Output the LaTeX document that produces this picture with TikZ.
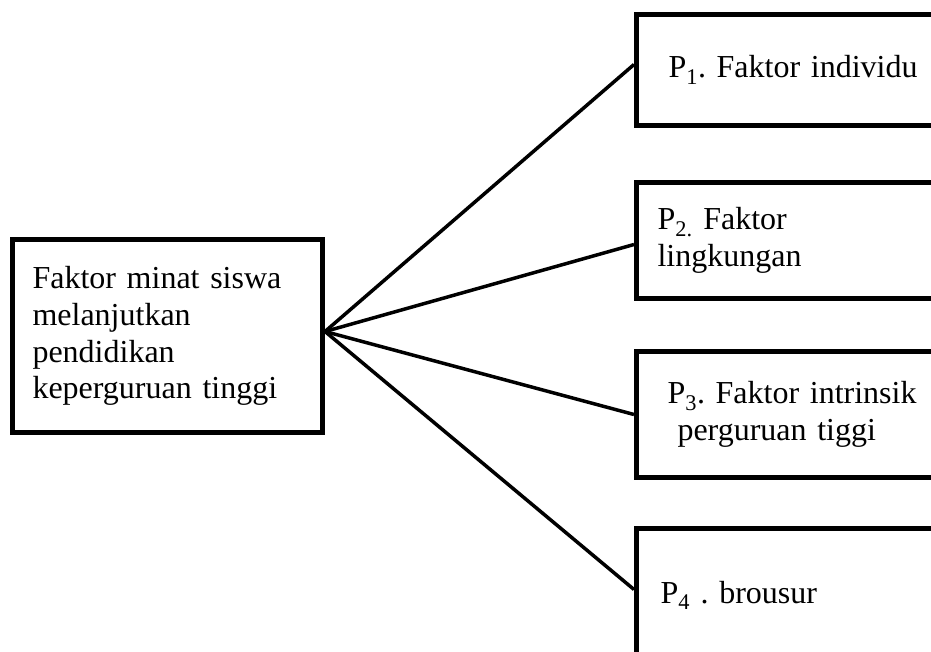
\documentclass[tikz,border=0pt]{standalone}
\usepackage{fontspec}
\setmainfont{Liberation Serif}
\frenchspacing
\begin{document}
\begin{tikzpicture}[x=1pt,y=-1pt,
  box/.style={draw, line width=5pt, rectangle, align=left, inner ysep=0pt,
              font=\fontsize{32}{36.8}\selectfont\frenchspacing},
  rbox/.style={box, anchor=north west, minimum width=326pt},
  conn/.style={line width=3.5pt}]
\useasboundingbox (0,0) rectangle (931,651);
\clip (0,0) rectangle (931,651);
\node[box, anchor=north west, minimum width=310pt, minimum height=193pt,
      inner xsep=20pt, text width=270pt] (L) at (10,237)
  {Faktor minat siswa\\melanjutkan\\pendidikan\\keperguruan tinggi};
\node[rbox, minimum height=111pt, inner xsep=32pt, text width=262pt] (p1) at (634,12)
  {P\textsubscript{1}. Faktor individu};
\node[rbox, minimum height=116pt, inner xsep=21pt, text width=284pt] (p2) at (634,180)
  {P\textsubscript{2.} Faktor\\lingkungan};
\node[rbox, minimum height=126pt, inner xsep=31pt, text width=264pt] (p3) at (634,349)
  {P\textsubscript{3}. Faktor intrinsik\\\hspace*{10pt}perguruan tiggi};
\node[rbox, minimum height=134pt, inner xsep=24pt, text width=278pt] (p4) at (634,526)
  {P\textsubscript{4} . brousur};
\coordinate (hub) at ([yshift=4.5pt]L.east);
\draw[conn] (hub) -- ([yshift=5.5pt]p1.west);
\draw[conn] (hub) -- ([yshift=-4pt]p2.west);
\draw[conn] (hub) -- (p3.west);
\draw[conn] (hub) -- ([yshift=6pt]p4.west);
\end{tikzpicture}
\end{document}
